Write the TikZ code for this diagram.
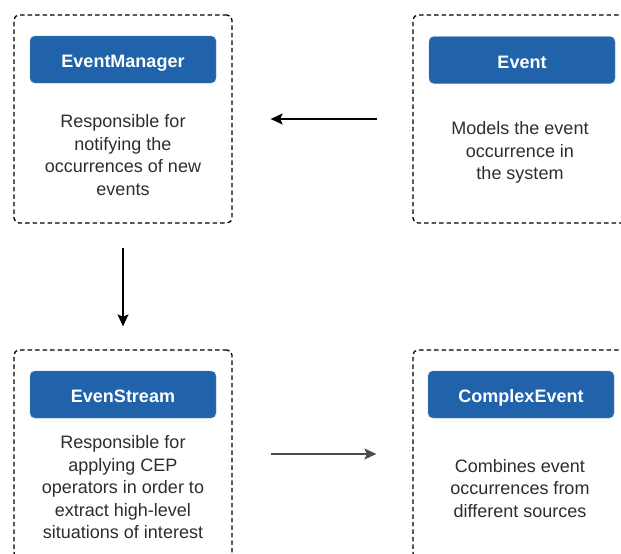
\documentclass[tikz,border=0pt]{standalone}
\usepackage{fontspec}
\setmainfont{Liberation Sans}
\usetikzlibrary{arrows.meta,positioning}
\definecolor{headblue}{RGB}{33,99,170}
\definecolor{textgrey}{RGB}{45,45,45}

\begin{document}
\begin{tikzpicture}
	[x=1pt,y=-1pt,
	class box/.style={shape=rectangle,draw,dash pattern=on 4.5pt off 3pt,rounded corners=5pt,line width=1.3pt,minimum width=218pt,minimum height=208pt},
	class name/.style={shape=rectangle,draw=headblue!75!white,fill=headblue,rounded corners=5pt,minimum width=186pt,minimum height=47pt,text height=16pt,text depth=0pt,text=white,font=\fontsize{18}{21}\selectfont\bfseries},
	class info/.style={align=center,text=textgrey,inner sep=0pt,font=\fontsize{18}{22.5}\selectfont},
	flow/.style={draw,line width=1.3pt,-{Stealth[length=12pt,width=11pt,inset=2.5pt]}}]
	\clip (0,0) rectangle (621,554);
	
	\node [class box] (mgrbox) at (123,119) {};
	\node [class box] (evtbox) at (522,119) {};
	\node [class box] (strbox) at (123,454) {};
	\node [class box] (cpxbox) at (522,454) {};
	
	\node [class name] (mgr) at (123,59.5) {EventManager};
	\node [class name] (evt) at (522,60) {Event};
	\node [class name] (str) at (123,394.5) {EvenStream};
	\node [class name] (cpx) at (521,394.5) {ComplexEvent};
	
	\node [class info] (mgrinfo) at (123,155) {Responsible for\\notifying the\\occurrences of new\\events};
	\node [class info] (evtinfo) at (520,152.5) {Models the event\\occurrence in\\the system};
	\node [class info] (strinfo) at (123,487.5) {Responsible for\\applying CEP\\operators in order to\\extract high-level\\situations of interest};
	\node [class info] (cpxinfo) at (520,488.5) {Combines event\\occurrences from\\different sources};
	
	\path[flow]
	(evtbox) edge [shorten <=35pt,shorten >=38pt] (mgrbox)
	(mgrbox) edge [shorten <=24pt,shorten >=23pt] (strbox)
	(strbox) edge [draw=black!70,shorten <=38pt,shorten >=36pt] (cpxbox)
	;
	
\end{tikzpicture}
\end{document}
